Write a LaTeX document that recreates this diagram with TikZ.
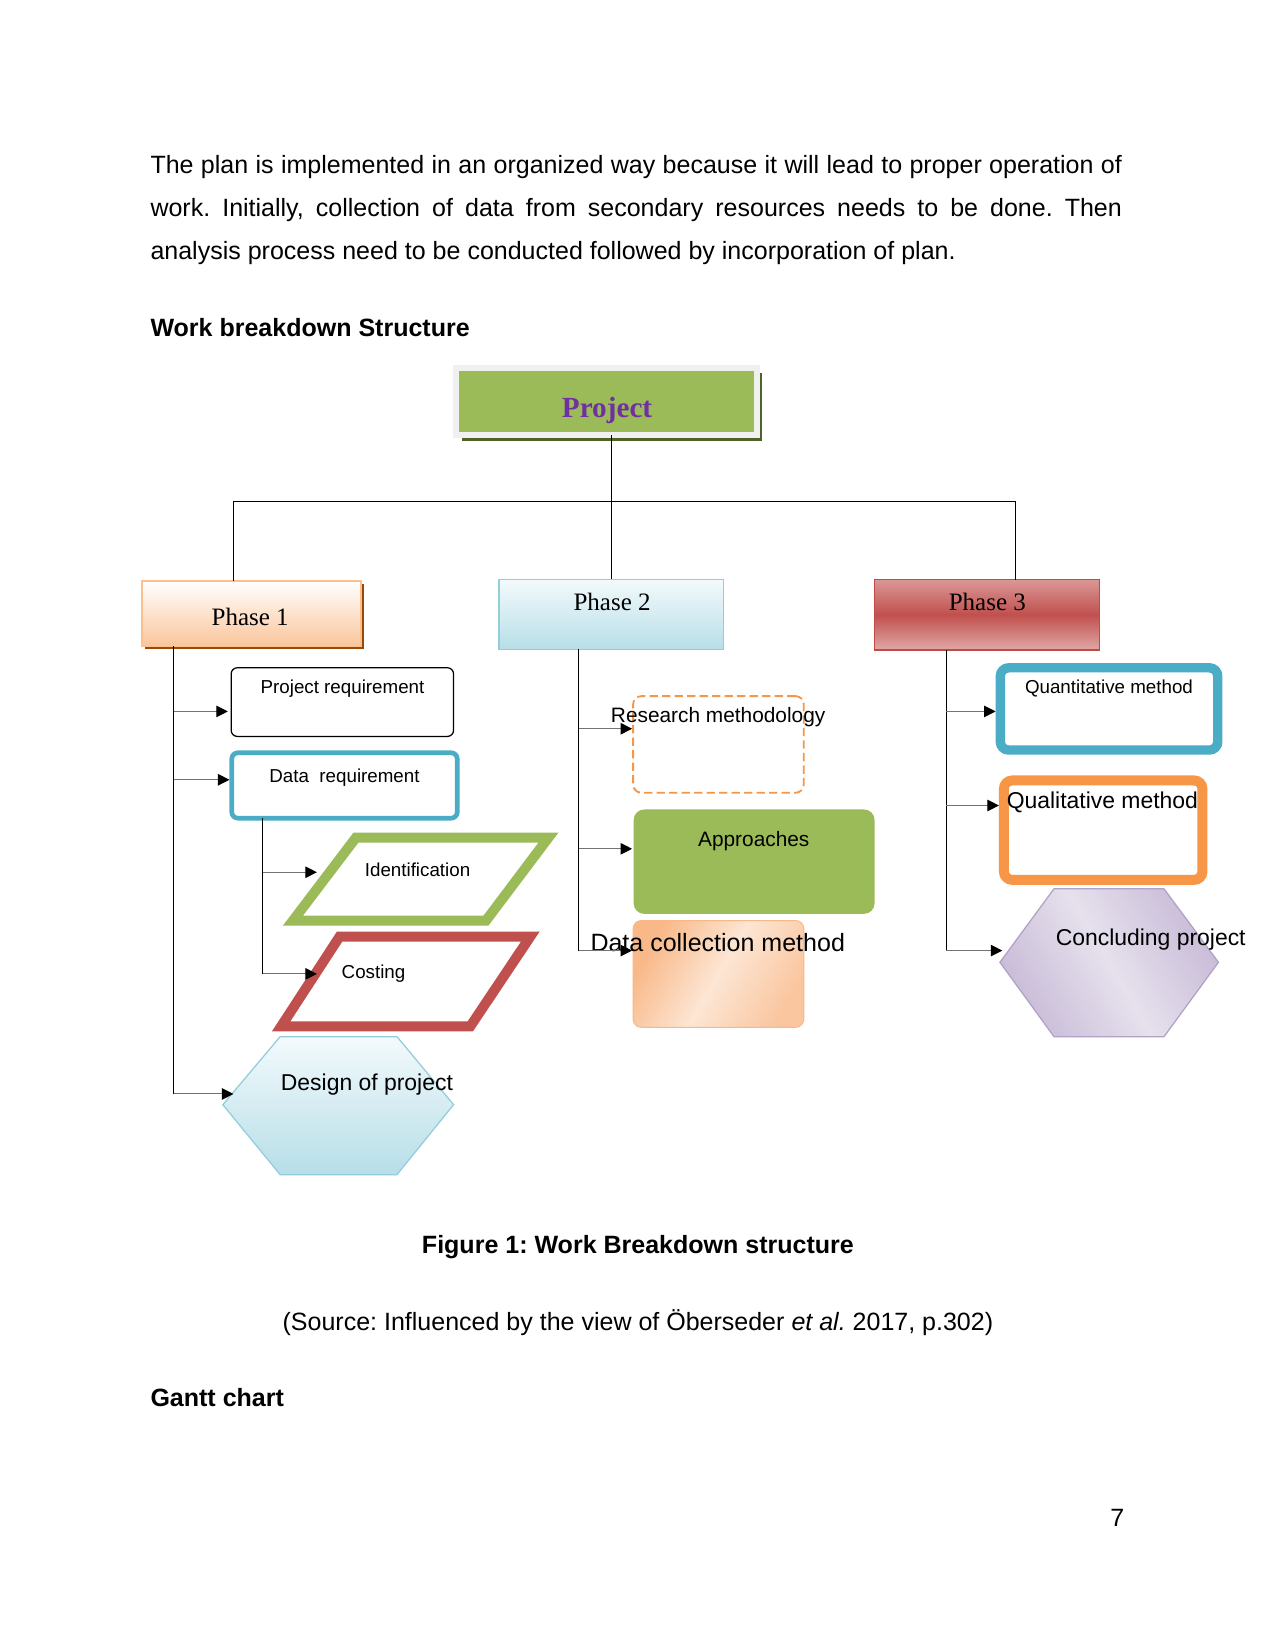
\documentclass[tikz,border=0pt]{standalone}
\usepackage{fontspec}
\setmainfont{Liberation Sans}
\newfontfamily\phasefont{Liberation Serif}
\usepackage{xcolor}
\usetikzlibrary{positioning,fit,arrows.meta,shadows}
\frenchspacing

\definecolor{prjGreen}{HTML}{9BBB59}
\definecolor{prjFrame}{HTML}{F0F1EE}
\definecolor{prjShadow}{HTML}{4F6228}
\definecolor{prjPurple}{HTML}{7030A0}
\definecolor{ph1Line}{HTML}{FAC090}
\definecolor{ph1Fill}{HTML}{FAC59A}
\definecolor{ph1Shadow}{HTML}{984807}
\definecolor{ph2Top}{HTML}{F3FAFC}
\definecolor{ph2Fill}{HTML}{B7DEE8}
\definecolor{ph2Line}{HTML}{93CDDD}
\definecolor{ph3Light}{HTML}{DA9896}
\definecolor{ph3Dark}{HTML}{C0504D}
\definecolor{ph3Line}{HTML}{BE4B48}
\definecolor{blueLine}{HTML}{4BACC6}
\definecolor{orLine}{HTML}{F79646}
\definecolor{redLine}{HTML}{C0504D}
\definecolor{dcDark}{HTML}{F9B888}
\definecolor{dcLight}{HTML}{FCE6D4}
\definecolor{cpDark}{HTML}{C9BCD8}
\definecolor{cpLight}{HTML}{E6E1ED}
\definecolor{cpLine}{HTML}{B2A1C7}

\begin{document}
\begin{tikzpicture}[x=0.48pt, y=-0.48pt,
			box/.style={inner sep=0pt, outer sep=0pt},
			trunk/.style={draw=black, line width=0.5pt},
			branch/.style={draw=black!55, line width=0.5pt, -{Triangle[length=5.5pt, width=5.5pt, color=black]}},
			txt/.style={inner sep=0pt, anchor=base},
			small/.style={txt, font=\fontsize{9}{11}\selectfont},
			phasetxt/.style={txt, font=\phasefont\fontsize{12}{14}\selectfont},
			body/.style={inner sep=0pt, anchor=base west, font=\fontsize{12}{14}\selectfont}]
\path[fill=white] (0,0) rectangle (1275,1650);

% text of the page
\node[body] (line1) at (150,173.7) {\makebox[466pt][s]{The plan is implemented in an organized way because it will lead to proper operation of}};
\node[body] (line2) at (150,216.4) {\makebox[466pt][s]{work. Initially, collection of data from secondary resources needs to be done. Then}};
\node[body] (line3) at (150,259.5) {analysis process need to be conducted followed by incorporation of plan.};
\node[body, font=\bfseries\fontsize{12}{14}\selectfont] (wbs) at (150,335.8) {Work breakdown Structure};

% top level
\node[box, draw=prjFrame, line width=2.9pt, fill=prjGreen,
		drop shadow={shadow xshift=2.6pt, shadow yshift=-2.6pt, fill=prjShadow, opacity=1},
		fit={(456,367.5)(756.5,435)}] (prj) {};
\node[txt, font=\phasefont\bfseries\fontsize{14}{17}\selectfont, text=prjPurple] (prjText) at (606.7,417.7) {Project};

\node[box, draw=ph1Line, line width=0.8pt, top color=white, bottom color=ph1Fill,
		drop shadow={shadow xshift=1.44pt, shadow yshift=-1.44pt, fill=ph1Shadow, opacity=1},
		fit={(141.7,580.7)(361,646)}] (ph1) {};
\node[box, draw=ph2Line, line width=0.8pt, top color=ph2Top, bottom color=ph2Fill,
		fit={(499,579)(723,649)}] (ph2) {};
\node[box, draw=ph3Line, line width=0.8pt, top color=ph3Light, bottom color=ph3Light!85!white, middle color=ph3Dark,
		fit={(874,579.3)(1098.7,649.3)}] (ph3) {};
\node[phasetxt] (ph1Text) at (250,625) {Phase 1};
\node[phasetxt] (ph2Text) at (611.7,610) {Phase 2};
\node[phasetxt] (ph3Text) at (986.7,610) {Phase 3};

\coordinate (bus1) at (233.7,501);
\coordinate (bus3) at (1015,501);
\draw[trunk] (prj.south -| ph2.north) -- (ph2.north);
\draw[trunk] (ph1.north -| bus1) -- (bus1) -- (bus3) -- (ph3.north -| bus3);

% phase 1
\node[box, draw=black, line width=0.6pt, rounded corners=3pt, fit={(231,667.3)(453.3,736)}] (pr) {};
\node[box, draw=blueLine, line width=2.25pt, rounded corners=3pt, fit={(231.6,752.3)(457,817.7)}] (dr) {};
\draw[draw=prjGreen, line width=4.8pt] (355.8,837) -- (548.2,837) -- (485.7,920) -- (292.8,920) -- cycle;
\draw[draw=redLine, line width=4.8pt] (339.4,936) -- (530,936) -- (470,1025.7) -- (281,1025.7) -- cycle;
\shadedraw[top color=ph2Top, bottom color=ph2Fill, draw=ph2Line, line width=0.6pt]
		(222.7,1104) -- (280,1036) -- (396.7,1036) -- (453.3,1104) -- (396.7,1174) -- (280,1174) -- cycle;
\node[small] (prText) at (342.3,692.7) {Project requirement};
\node[small] (drText) at (344.3,782.3) {Data~~requirement};
\node[small] (idText) at (417.3,876) {Identification};
\node[small] (coText) at (373.3,978.3) {Costing};
\node[txt, font=\fontsize{11}{13}\selectfont] (dpText) at (366.7,1090) {Design of project};

\coordinate (t1) at (173.5,646);
\coordinate (t1b) at (262.7,820);
\coordinate (prIn) at (227.7,711);
\coordinate (drIn) at (229.3,779.3);
\coordinate (idIn) at (316.7,871.7);
\coordinate (coIn) at (316.7,973.3);
\coordinate (dpIn) at (233.3,1093.3);
\draw[trunk] (ph1.south -| t1) -- (t1 |- dpIn);
\draw[trunk] (dr.south -| t1b) -- (t1b |- coIn);
\draw[branch] (t1 |- prIn) -- (prIn);
\draw[branch] (t1 |- drIn) -- (drIn);
\draw[branch] (t1b |- idIn) -- (idIn);
\draw[branch] (t1b |- coIn) -- (coIn);
\draw[branch] (t1 |- dpIn) -- (dpIn);

% phase 2
\node[box, draw=orLine, line width=0.9pt, dash pattern=on 4pt off 2pt, rounded corners=4pt,
		fit={(632.7,695.7)(803.3,792.3)}] (rm) {};
\node[box, fill=prjGreen, rounded corners=5pt, fit={(633.3,809)(874,913.3)}] (ap) {};
\node[box, draw=dcDark, line width=0.5pt, rounded corners=4pt, left color=dcDark, right color=dcDark!80!white,
		middle color=dcLight, shading angle=60, fit={(632.7,920)(803.3,1026.7)}] (dc) {};
\node[txt, font=\fontsize{10}{12}\selectfont] (rmText) at (717.7,722.3) {Research methodology};
\node[txt, font=\fontsize{10}{12}\selectfont] (apText) at (753.3,846) {Approaches};
\node[txt, font=\fontsize{12}{14}\selectfont] (dcText) at (717.3,950.7) {Data collection method};

\coordinate (t2) at (578.3,649);
\coordinate (rmIn) at (631.7,728.3);
\coordinate (apIn) at (631.7,848.3);
\coordinate (dcIn) at (631.7,950);
\draw[trunk] (ph2.south -| t2) -- (t2 |- dcIn);
\draw[branch] (t2 |- rmIn) -- (rmIn);
\draw[branch] (t2 |- apIn) -- (apIn);
\draw[branch] (t2 |- dcIn) -- (dcIn);

% phase 3
\node[box, draw=blueLine, line width=4.5pt, rounded corners=4pt, fit={(999.7,667.4)(1217,749.6)}] (qn) {};
\node[box, draw=orLine, line width=4.8pt, rounded corners=4pt, fit={(1003.3,780)(1201.7,879.3)}] (ql) {};
\shadedraw[left color=cpDark, right color=cpDark, middle color=cpLight, shading angle=120, draw=cpLine, line width=0.6pt]
		(999.3,961.7) -- (1053.3,888.3) -- (1163.3,888.3) -- (1217.7,961.7) -- (1163.3,1036) -- (1053.3,1036) -- cycle;
\node[small] (qnText) at (1108.3,692.7) {Quantitative method};
\node[txt, font=\fontsize{11}{13}\selectfont] (qlText) at (1101.7,808.3) {Qualitative method};
\node[txt, font=\fontsize{11}{13}\selectfont] (cpText) at (1150,945) {Concluding project};

\coordinate (t3) at (945.7,649);
\coordinate (qnIn) at (995,711);
\coordinate (qlIn) at (998.3,805);
\coordinate (cpIn) at (1001.7,950);
\draw[trunk] (ph3.south -| t3) -- (t3 |- cpIn);
\draw[branch] (t3 |- qnIn) -- (qnIn);
\draw[branch] (t3 |- qlIn) -- (qlIn);
\draw[branch] (t3 |- cpIn) -- (cpIn);

% caption and rest of page
\node[txt, font=\bfseries\fontsize{12}{14}\selectfont] (cap) at (637.5,1252.8) {Figure 1: Work Breakdown structure};
\node[txt, font=\fontsize{12}{14}\selectfont] (src) at (637.5,1329.7) {(Source: Influenced by the view of Öberseder \textit{et al.} 2017, p.302)};
\node[body, font=\bfseries\fontsize{12}{14}\selectfont] (gantt) at (150,1405.5) {Gantt chart};
\node[inner sep=0pt, anchor=base east, font=\fontsize{12}{14}\selectfont] (pageno) at (1124,1525.5) {7};
\end{tikzpicture}
\end{document}
